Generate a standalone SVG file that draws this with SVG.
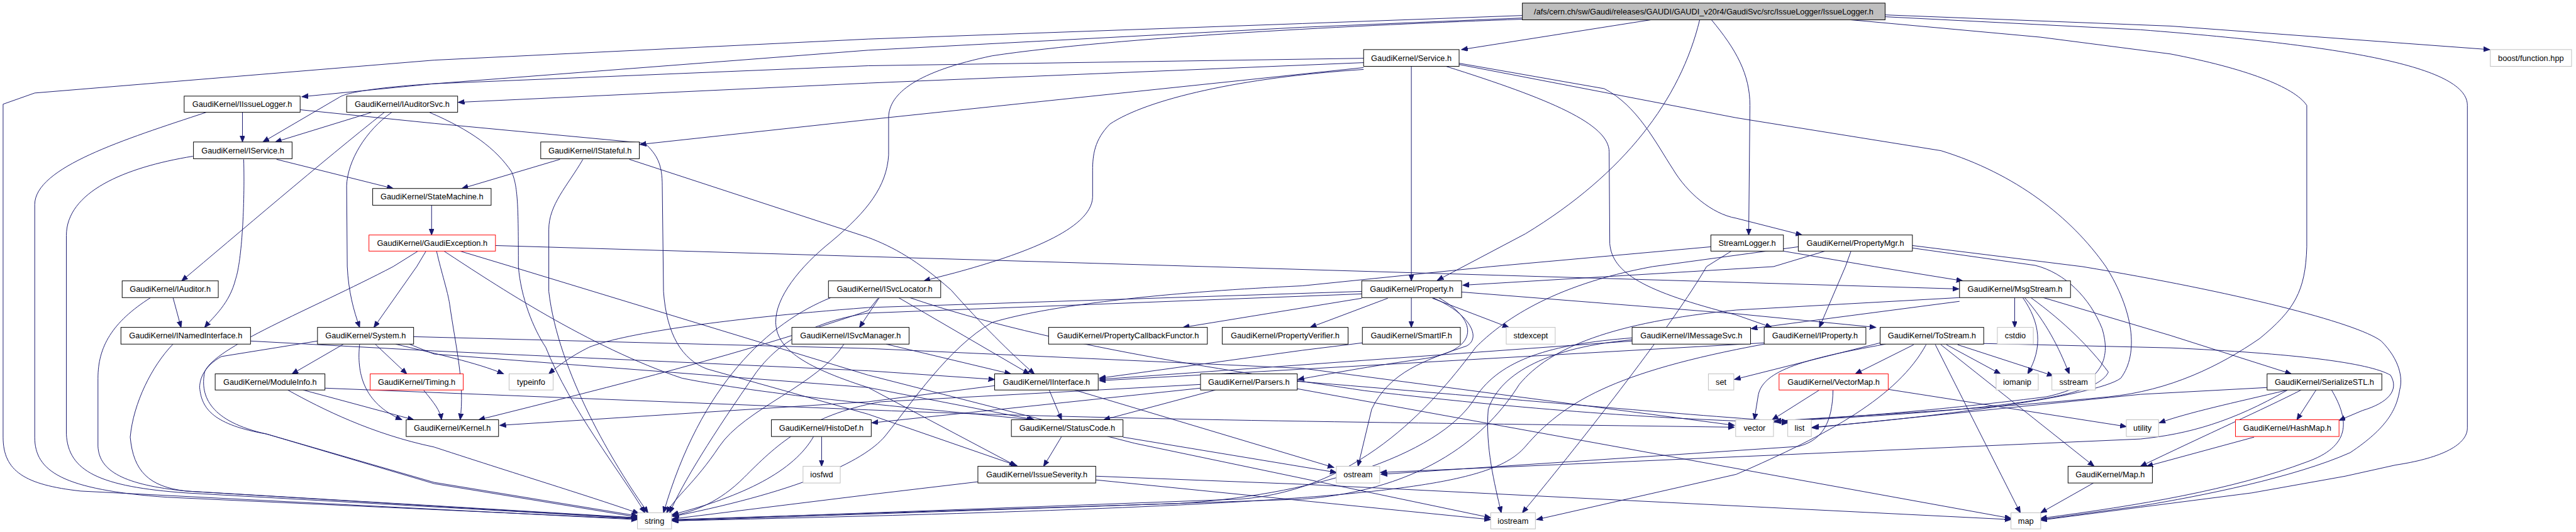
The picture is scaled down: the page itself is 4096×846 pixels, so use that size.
<svg xmlns="http://www.w3.org/2000/svg" width="4096" height="846" viewBox="0 0 4096 846">
<style>
.nd rect{fill:#fff;stroke:#000;stroke-width:1}
.gy rect{fill:#fff;stroke:#bfbfbf;stroke-width:1}
.rd rect{fill:#fff;stroke:#ff0000;stroke-width:1}
.mn rect{fill:#bfbfbf;stroke:#000;stroke-width:1}
text{font-family:"Liberation Sans",Arial,sans-serif;font-size:13px;text-anchor:middle;fill:#000}
#edges path{fill:none;stroke:#191970;stroke-width:1;marker-end:url(#ah)}
</style>
<defs>
<marker id="ah" markerUnits="userSpaceOnUse" markerWidth="11" markerHeight="9" refX="10" refY="4" orient="auto"><path d="M0,0 L10,4 L0,8 z" fill="#191970" stroke="#191970"/></marker>
</defs>
<rect width="4096" height="846" fill="#fff"/>
<g transform="scale(0.986)">
<g id="edges">
<path d="M2662,32 L2357,80"/>
<path d="M2455,29 L2100,44 L1400,81 L700,135 L487,156"/>
<path d="M2455,25 L2100,38 L1400,63 L700,97 L56,150 L5,168 L5,705 C5,760 40,782 130,792 L1028,838"/>
<path d="M2455,31 C2200,40 1800,60 1600,90 C1480,115 1433,150 1433,190 L1433,250 C1430,300 1400,340 1340,390 C1290,430 1250,480 1251,520 C1252,560 1290,590 1400,625 L1638,751"/>
<path d="M2741,32 C2710,160 2620,280 2460,377 L2318,452"/>
<path d="M2760,32 C2800,80 2822,120 2822,170 L2820,379"/>
<path d="M3040,24 L3500,42 L4015,80"/>
<path d="M3040,27 L3452,48 C3800,75 3979,110 3979,170 L3979,690 C3979,720 3930,740 3863,750 L3782,768 L3631,795 L3452,818 L3291,839"/>
<path d="M2985,32 L3291,60 L3500,87 C3620,110 3700,140 3720,170 L3720,398 C3718,470 3700,500 3644,546 C3580,590 3500,630 3400,640 C3200,660 3000,670 2862,679"/>
<path d="M2199,94 L1400,106 L700,135 C620,140 560,148 547,157 L424,229"/>
<path d="M2199,101 L1400,134 L739,165"/>
<path d="M2199,109 L1400,193 L1032,233"/>
<path d="M2199,112 C2000,125 1850,160 1790,200 C1765,225 1762,250 1762,275 L1762,318 C1760,370 1650,410 1540,440 L1490,453"/>
<path d="M2276,107 L2276,453"/>
<path d="M2353,102 L2587,143 C2640,170 2670,230 2698,273 C2720,310 2760,345 2800,352 L2906,379"/>
<path d="M2353,104 L2800,190 L3130,243 C3250,280 3340,350 3396,430 C3440,500 3450,570 3420,610 C3380,640 3100,675 2923,689"/>
<path d="M2332,107 C2500,160 2595,200 2595,245 L2596,393 C2600,440 2650,470 2800,508 L2857,528"/>
<path d="M391,181 L391,229"/>
<path d="M333,181 C200,225 56,270 56,330 L56,705 C56,760 100,790 270,802 L1028,837"/>
<path d="M484,177 L700,199 L1040,231 C1060,250 1068,265 1068,300 L1070,470 C1075,540 1100,580 1140,595 L1400,668 L1640,751"/>
<path d="M600,181 L444,229"/>
<path d="M620,181 C520,260 380,380 293,453"/>
<path d="M632,181 C590,210 560,260 559,300 L560,430 C562,470 570,500 580,528"/>
<path d="M692,181 C760,210 800,240 825,277 C835,300 836,330 836,430 C840,480 860,530 880,560 C920,660 1000,760 1040,827"/>
<path d="M393,257 C395,330 390,420 380,450 C370,490 345,510 330,528"/>
<path d="M446,257 L634,304"/>
<path d="M311,252 C200,270 107,310 107,380 L107,700 C110,760 160,785 300,795 L1028,836"/>
<path d="M903,257 L745,304"/>
<path d="M940,257 C915,300 885,330 885,370 L885,470 C900,600 990,750 1045,827"/>
<path d="M1015,257 L1400,383 C1440,398 1480,420 1534,468 C1580,520 1630,570 1668,603"/>
<path d="M696,331 L696,379"/>
<path d="M687,405 L672,430 L603,528"/>
<path d="M704,405 C712,440 722,470 725,490 C735,560 750,620 742,677"/>
<path d="M716,405 C800,460 950,560 1100,610 C1250,640 1500,660 1666,677"/>
<path d="M674,405 L634,430 C500,500 345,560 330,600 C322,640 340,680 430,700 L700,778 L1028,832"/>
<path d="M799,396 L3159,466"/>
<path d="M742,405 L825,430 L1400,605 L1830,715 L2404,835"/>
<path d="M279,480 L292,528"/>
<path d="M243,480 C180,520 158,560 158,610 L158,720 C160,760 200,782 300,792 L1028,836"/>
<path d="M279,555 C245,590 215,650 210,705 C215,760 240,785 300,792 L1028,835"/>
<path d="M404,550 L700,566 L1400,598 L1604,612"/>
<path d="M580,555 C575,600 585,650 648,677"/>
<path d="M554,555 L471,603"/>
<path d="M605,555 L656,603"/>
<path d="M638,555 C700,570 770,585 812,603"/>
<path d="M512,550 L357,575 C330,590 322,610 322,625 C325,660 345,685 430,700 L700,780 L1028,834"/>
<path d="M660,555 L700,571 L1400,625 L1668,677"/>
<path d="M667,543 L1400,562 L2100,594 L2797,686"/>
<path d="M489,629 L667,677"/>
<path d="M464,629 C520,660 600,700 700,721 C850,770 950,800 1030,828"/>
<path d="M524,626 L1400,661 C1800,678 2300,682 2797,689"/>
<path d="M683,629 C700,650 710,662 712,677"/>
<path d="M1416,481 L1400,501 C1200,570 1000,620 772,677"/>
<path d="M1418,480 L1386,528"/>
<path d="M1449,480 L1660,603"/>
<path d="M1340,480 C1240,520 1130,620 1070,827"/>
<path d="M1467,480 C1700,560 2000,600 2200,630 C2500,665 2700,676 2883,682"/>
<path d="M1429,555 L1630,603"/>
<path d="M1361,555 C1320,620 1200,660 1160,720 C1120,780 1090,800 1075,827"/>
<path d="M1604,622 L1400,648 L806,686"/>
<path d="M1692,629 L1712,677"/>
<path d="M1733,629 L2151,754"/>
<path d="M1712,704 L1683,752"/>
<path d="M1811,705 L2155,762"/>
<path d="M1577,777 L1400,798 L1084,837"/>
<path d="M1767,774 L2404,838"/>
<path d="M1767,768 L2100,781 L3243,838"/>
<path d="M1325,704 L1325,752"/>
<path d="M1312,704 C1280,760 1200,800 1084,830"/>
<path d="M1960,629 L1780,677"/>
<path d="M1936,626 L1406,682"/>
<path d="M1936,620 L1420,648 C1300,670 1250,720 1200,770 C1160,810 1120,825 1084,832"/>
<path d="M2092,627 L3243,836"/>
<path d="M2092,615 C2400,640 2700,668 2883,680"/>
<path d="M2196,481 L1908,528"/>
<path d="M2238,481 L2113,528"/>
<path d="M2276,480 L2276,528"/>
<path d="M2310,481 L2433,528"/>
<path d="M2310,480 C2370,505 2390,545 2365,558 C2300,580 2240,600 2212,660 L2190,752"/>
<path d="M2320,480 C2390,520 2380,565 2300,578 C2200,592 2150,602 2093,612"/>
<path d="M2196,470 L1400,496 C1150,515 1000,540 950,560 C920,575 900,590 885,603"/>
<path d="M2196,474 L1400,505 C1300,520 1250,560 1220,600 C1150,700 1100,780 1080,827"/>
<path d="M2357,471 L2800,506 L3025,528"/>
<path d="M2197,553 L2100,565 L1773,610"/>
<path d="M2943,405 L2860,430 L2359,460"/>
<path d="M2985,405 L2976,430 L2934,528"/>
<path d="M3084,400 L3282,428 C3330,440 3370,480 3390,530 C3405,580 3390,620 3300,640 C3100,665 2950,675 2862,679"/>
<path d="M3084,396 L3358,430 C3600,470 3800,520 3840,550 C3870,580 3875,610 3870,628 C3865,660 3850,690 3790,730 C3700,770 3550,800 3452,816 L3291,838"/>
<path d="M2900,398 L2665,430 C2500,460 2420,520 2380,560 C2320,640 2200,790 2000,805 L1084,839"/>
<path d="M2876,405 L3023,430 L3165,453"/>
<path d="M2759,398 L2404,430 L2100,461 C1900,470 1700,490 1600,520 C1530,560 1470,650 1430,700 C1400,740 1300,790 1085,833"/>
<path d="M2792,405 L2752,430 C2700,520 2560,700 2455,827"/>
<path d="M3249,480 L3249,528"/>
<path d="M3262,480 C3290,520 3295,560 3270,603"/>
<path d="M3265,480 C3300,520 3320,560 3337,603"/>
<path d="M3295,480 L3500,541 L3695,603"/>
<path d="M3160,486 L2824,530"/>
<path d="M3160,480 L2800,500 C2600,520 2500,560 2450,620 C2400,700 2300,790 2100,805 L1084,840"/>
<path d="M3275,480 C3330,520 3370,560 3400,600 C3380,645 3200,662 2862,680"/>
<path d="M2632,550 L1773,612"/>
<path d="M2632,545 C2500,555 2420,580 2380,640 C2320,740 2100,800 1900,812 L1084,838"/>
<path d="M2632,548 C2500,560 2420,600 2400,660 C2395,720 2410,780 2421,827"/>
<path d="M2845,553 L1773,614"/>
<path d="M2845,555 C2600,600 2520,650 2460,720 C2400,790 2200,815 1084,840"/>
<path d="M3086,556 L2992,603"/>
<path d="M3139,556 L3226,603"/>
<path d="M3157,556 L3311,606"/>
<path d="M3121,556 L3258,827"/>
<path d="M3130,556 L3377,752"/>
<path d="M3041,555 C2900,580 2840,600 2835,640 L2829,677"/>
<path d="M3106,556 C3060,640 2950,700 2800,765 L2478,838"/>
<path d="M3199,554 L3500,561 C3700,570 3820,585 3855,605 C3870,630 3850,650 3810,662 L3772,678"/>
<path d="M3032,553 L2797,612"/>
<path d="M2934,629 L2858,677"/>
<path d="M3045,628 L3429,688"/>
<path d="M2956,629 C2955,680 2940,710 2900,720 L2227,765"/>
<path d="M3735,629 L3704,677"/>
<path d="M3711,629 C3650,660 3560,700 3452,752"/>
<path d="M3760,629 C3790,680 3790,720 3720,745 C3600,790 3450,815 3291,836"/>
<path d="M3689,629 C3600,650 3530,665 3482,682"/>
<path d="M3656,625 L3452,636 L2922,690"/>
<path d="M3689,629 C3600,680 3530,700 3452,708 L2226,762"/>
<path d="M3635,705 L3462,752"/>
<path d="M3376,779 L3291,827"/>
</g>
<g id="n0" class="mn"><rect x="2455" y="5" width="585" height="27"/><text x="2747.5" y="23">/afs/cern.ch/sw/Gaudi/releases/GAUDI/GAUDI_v20r4/GaudiSvc/src/IssueLogger/IssueLogger.h</text></g>
<g id="n1" class="nd"><rect x="2199" y="80" width="154" height="27"/><text x="2276" y="98">GaudiKernel/Service.h</text></g>
<g id="n2" class="gy"><rect x="4016" y="80" width="131" height="27"/><text x="4081.5" y="98">boost/function.hpp</text></g>
<g id="n3" class="nd"><rect x="297" y="155" width="187" height="26"/><text x="390.5" y="172.5">GaudiKernel/IIssueLogger.h</text></g>
<g id="n4" class="nd"><rect x="559" y="155" width="179" height="26"/><text x="648.5" y="172.5">GaudiKernel/IAuditorSvc.h</text></g>
<g id="n5" class="nd"><rect x="312" y="229" width="159" height="27"/><text x="391.5" y="247">GaudiKernel/IService.h</text></g>
<g id="n6" class="nd"><rect x="872" y="229" width="159" height="27"/><text x="951.5" y="247">GaudiKernel/IStateful.h</text></g>
<g id="n7" class="nd"><rect x="601" y="304" width="191" height="27"/><text x="696.5" y="322">GaudiKernel/StateMachine.h</text></g>
<g id="n8" class="rd"><rect x="595" y="379" width="204" height="26"/><text x="697" y="396.5">GaudiKernel/GaudiException.h</text></g>
<g id="n9" class="nd"><rect x="2759" y="379" width="117" height="26"/><text x="2817.5" y="396.5">StreamLogger.h</text></g>
<g id="n10" class="nd"><rect x="2900" y="379" width="184" height="26"/><text x="2992" y="396.5">GaudiKernel/PropertyMgr.h</text></g>
<g id="n11" class="nd"><rect x="197" y="453" width="155" height="27"/><text x="274.5" y="471">GaudiKernel/IAuditor.h</text></g>
<g id="n12" class="nd"><rect x="1336" y="453" width="181" height="27"/><text x="1426.5" y="471">GaudiKernel/ISvcLocator.h</text></g>
<g id="n13" class="nd"><rect x="2196" y="453" width="161" height="27"/><text x="2276.5" y="471">GaudiKernel/Property.h</text></g>
<g id="n14" class="nd"><rect x="3160" y="453" width="179" height="27"/><text x="3249.5" y="471">GaudiKernel/MsgStream.h</text></g>
<g id="n15" class="nd"><rect x="195" y="528" width="209" height="27"/><text x="299.5" y="546">GaudiKernel/INamedInterface.h</text></g>
<g id="n16" class="nd"><rect x="512" y="528" width="155" height="27"/><text x="589.5" y="546">GaudiKernel/System.h</text></g>
<g id="n17" class="nd"><rect x="1277" y="528" width="189" height="27"/><text x="1371.5" y="546">GaudiKernel/ISvcManager.h</text></g>
<g id="n18" class="nd"><rect x="1691" y="528" width="256" height="27"/><text x="1819" y="546">GaudiKernel/PropertyCallbackFunctor.h</text></g>
<g id="n19" class="nd"><rect x="1971" y="528" width="203" height="27"/><text x="2072.5" y="546">GaudiKernel/PropertyVerifier.h</text></g>
<g id="n20" class="nd"><rect x="2197" y="528" width="158" height="27"/><text x="2276" y="546">GaudiKernel/SmartIF.h</text></g>
<g id="n21" class="gy"><rect x="2429" y="528" width="79" height="27"/><text x="2468.5" y="546">stdexcept</text></g>
<g id="n22" class="nd"><rect x="2632" y="528" width="191" height="27"/><text x="2727.5" y="546">GaudiKernel/IMessageSvc.h</text></g>
<g id="n23" class="nd"><rect x="2845" y="528" width="164" height="27"/><text x="2927" y="546">GaudiKernel/IProperty.h</text></g>
<g id="n24" class="nd"><rect x="3032" y="528" width="167" height="27"/><text x="3115.5" y="546">GaudiKernel/ToStream.h</text></g>
<g id="n25" class="gy"><rect x="3221" y="528" width="58" height="27"/><text x="3250" y="546">cstdio</text></g>
<g id="n26" class="gy"><rect x="821" y="603" width="71" height="26"/><text x="856.5" y="620.5">typeinfo</text></g>
<g id="n27" class="nd"><rect x="347" y="603" width="177" height="26"/><text x="435.5" y="620.5">GaudiKernel/ModuleInfo.h</text></g>
<g id="n28" class="rd"><rect x="597" y="603" width="150" height="26"/><text x="672" y="620.5">GaudiKernel/Timing.h</text></g>
<g id="n29" class="nd"><rect x="1604" y="603" width="167" height="26"/><text x="1687.5" y="620.5">GaudiKernel/IInterface.h</text></g>
<g id="n30" class="nd"><rect x="1936" y="603" width="156" height="26"/><text x="2014" y="620.5">GaudiKernel/Parsers.h</text></g>
<g id="n31" class="gy"><rect x="2755" y="603" width="41" height="26"/><text x="2775.5" y="620.5">set</text></g>
<g id="n32" class="rd"><rect x="2869" y="603" width="176" height="26"/><text x="2957" y="620.5">GaudiKernel/VectorMap.h</text></g>
<g id="n33" class="gy"><rect x="3219" y="603" width="68" height="26"/><text x="3253" y="620.5">iomanip</text></g>
<g id="n34" class="gy"><rect x="3309" y="603" width="70" height="26"/><text x="3344" y="620.5">sstream</text></g>
<g id="n35" class="nd"><rect x="3656" y="603" width="185" height="26"/><text x="3748.5" y="620.5">GaudiKernel/SerializeSTL.h</text></g>
<g id="n36" class="nd"><rect x="655" y="677" width="149" height="27"/><text x="729.5" y="695">GaudiKernel/Kernel.h</text></g>
<g id="n37" class="nd"><rect x="1244" y="677" width="161" height="27"/><text x="1324.5" y="695">GaudiKernel/HistoDef.h</text></g>
<g id="n38" class="nd"><rect x="1631" y="677" width="180" height="27"/><text x="1721" y="695">GaudiKernel/StatusCode.h</text></g>
<g id="n39" class="gy"><rect x="2799" y="677" width="61" height="27"/><text x="2829.5" y="695">vector</text></g>
<g id="n40" class="gy"><rect x="2883" y="677" width="38" height="27"/><text x="2902" y="695">list</text></g>
<g id="n41" class="gy"><rect x="3429" y="677" width="52" height="27"/><text x="3455" y="695">utility</text></g>
<g id="n42" class="rd"><rect x="3605" y="677" width="167" height="27"/><text x="3688.5" y="695">GaudiKernel/HashMap.h</text></g>
<g id="n43" class="gy"><rect x="1295" y="752" width="60" height="27"/><text x="1325" y="770">iosfwd</text></g>
<g id="n44" class="nd"><rect x="1577" y="752" width="190" height="27"/><text x="1672" y="770">GaudiKernel/IssueSeverity.h</text></g>
<g id="n45" class="gy"><rect x="2155" y="752" width="70" height="27"/><text x="2190" y="770">ostream</text></g>
<g id="n46" class="nd"><rect x="3335" y="752" width="136" height="27"/><text x="3403" y="770">GaudiKernel/Map.h</text></g>
<g id="n47" class="gy"><rect x="1028" y="827" width="55" height="26"/><text x="1055.5" y="844.5">string</text></g>
<g id="n48" class="gy"><rect x="2404" y="827" width="72" height="26"/><text x="2440" y="844.5">iostream</text></g>
<g id="n49" class="gy"><rect x="3243" y="827" width="48" height="26"/><text x="3267" y="844.5">map</text></g>
</g>
</svg>
